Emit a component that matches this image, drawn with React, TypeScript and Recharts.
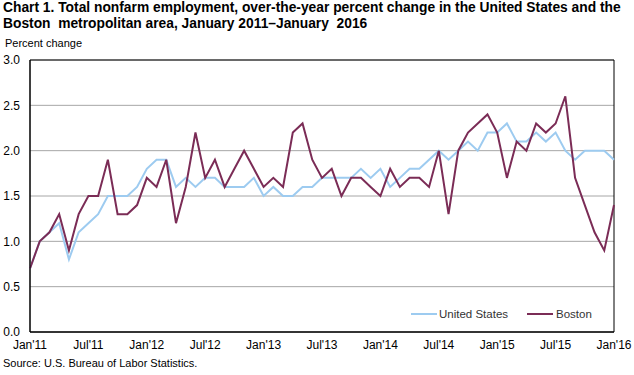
import React from "react";
import { LineChart, Line, XAxis, YAxis, CartesianGrid, ReferenceArea } from "recharts";

const months = [
  "Jan'11","Feb'11","Mar'11","Apr'11","May'11","Jun'11","Jul'11","Aug'11","Sep'11","Oct'11","Nov'11","Dec'11",
  "Jan'12","Feb'12","Mar'12","Apr'12","May'12","Jun'12","Jul'12","Aug'12","Sep'12","Oct'12","Nov'12","Dec'12",
  "Jan'13","Feb'13","Mar'13","Apr'13","May'13","Jun'13","Jul'13","Aug'13","Sep'13","Oct'13","Nov'13","Dec'13",
  "Jan'14","Feb'14","Mar'14","Apr'14","May'14","Jun'14","Jul'14","Aug'14","Sep'14","Oct'14","Nov'14","Dec'14",
  "Jan'15","Feb'15","Mar'15","Apr'15","May'15","Jun'15","Jul'15","Aug'15","Sep'15","Oct'15","Nov'15","Dec'15",
  "Jan'16",
];

const unitedStates = [
  0.7, 1.0, 1.1, 1.2, 0.8, 1.1, 1.2, 1.3, 1.5, 1.5, 1.5, 1.6,
  1.8, 1.9, 1.9, 1.6, 1.7, 1.6, 1.7, 1.7, 1.6, 1.6, 1.6, 1.7,
  1.5, 1.6, 1.5, 1.5, 1.6, 1.6, 1.7, 1.7, 1.7, 1.7, 1.8, 1.7,
  1.8, 1.6, 1.7, 1.8, 1.8, 1.9, 2.0, 1.9, 2.0, 2.1, 2.0, 2.2,
  2.2, 2.3, 2.1, 2.1, 2.2, 2.1, 2.2, 2.0, 1.9, 2.0, 2.0, 2.0,
  1.9,
];

const boston = [
  0.7, 1.0, 1.1, 1.3, 0.9, 1.3, 1.5, 1.5, 1.9, 1.3, 1.3, 1.4,
  1.7, 1.6, 1.9, 1.2, 1.6, 2.2, 1.7, 1.9, 1.6, 1.8, 2.0, 1.8,
  1.6, 1.7, 1.6, 2.2, 2.3, 1.9, 1.7, 1.8, 1.5, 1.7, 1.7, 1.6,
  1.5, 1.8, 1.6, 1.7, 1.7, 1.6, 2.0, 1.3, 2.0, 2.2, 2.3, 2.4,
  2.2, 1.7, 2.1, 2.0, 2.3, 2.2, 2.3, 2.6, 1.7, 1.4, 1.1, 0.9,
  1.4,
];

const yTicks = [0, 0.5, 1.0, 1.5, 2.0, 2.5, 3.0];
const xTickIndexes = [0, 6, 12, 18, 24, 30, 36, 42, 48, 54, 60];

const data = months.map((m, i) => ({ i, month: m, us: unitedStates[i], boston: boston[i] }));

const FONT = "'Liberation Sans Narrow', 'Arial Narrow', 'Liberation Sans', Arial, sans-serif";
const US_COLOR = "#9dcbf0";
const BOS_COLOR = "#7b2c56";

export default function App() {
  return (
    <div style={{ position: "fixed", left: 0, top: 0, width: 634, height: 375, background: "#fff", fontFamily: FONT }}>
      <div style={{ position: "absolute", left: 0, top: 0 }}>
        <LineChart width={634} height={375} data={data} margin={{ top: 60, right: 20, bottom: 0, left: 0 }}>
          <CartesianGrid horizontal={true} vertical={false} stroke="#a6a6a6" strokeWidth={1} />
          <XAxis
            dataKey="i"
            type="number"
            domain={[0, 60]}
            ticks={xTickIndexes}
            tickFormatter={(v: number) => months[v]}
            height={43}
            tickSize={0}
            tickMargin={8}
            axisLine={{ stroke: "#000" }}
            tick={{ fontSize: 12, fill: "#000", fontFamily: FONT }}
            interval={0}
          />
          <YAxis
            type="number"
            domain={[0, 3]}
            ticks={yTicks}
            tickFormatter={(v: number) => v.toFixed(1)}
            width={30}
            tickSize={0}
            tickMargin={10}
            axisLine={{ stroke: "#000" }}
            tick={{ fontSize: 12, fill: "#000", fontFamily: FONT }}
            interval={0}
          />
          <ReferenceArea x1={0} x2={60} y1={0} y2={3} stroke="#000" strokeWidth={1} fill="none" fillOpacity={0} ifOverflow="visible" />
          <Line type="linear" dataKey="us" stroke={US_COLOR} strokeWidth={2} dot={false} isAnimationActive={false} name="United States" />
          <Line type="linear" dataKey="boston" stroke={BOS_COLOR} strokeWidth={2} dot={false} isAnimationActive={false} name="Boston" />
        </LineChart>
      </div>
      <div style={{ position: "absolute", left: 3, top: 0, fontSize: 13.8, fontWeight: "bold", lineHeight: "16px", color: "#000", whiteSpace: "nowrap" }}>
        Chart 1. Total nonfarm employment, over-the-year percent change in the United States and the
        <br />
        Boston&nbsp; metropolitan area, January 2011–January&nbsp; 2016
      </div>
      <div style={{ position: "absolute", left: 5, top: 37, fontSize: 11, color: "#000", whiteSpace: "nowrap" }}>Percent change</div>
      <div style={{ position: "absolute", left: 3, top: 357, fontSize: 11, color: "#000", whiteSpace: "nowrap" }}>
        Source: U.S. Bureau of Labor Statistics.
      </div>
      <div style={{ position: "absolute", left: 411, top: 306, width: 200, height: 16, fontSize: 11.5, color: "#333" }}>
        <div style={{ position: "absolute", left: 0, top: 7, width: 26, height: 2, background: US_COLOR }} />
        <div style={{ position: "absolute", left: 28, top: 0, lineHeight: "16px" }}>United States</div>
        <div style={{ position: "absolute", left: 116, top: 7, width: 26, height: 2, background: BOS_COLOR }} />
        <div style={{ position: "absolute", left: 145, top: 0, lineHeight: "16px" }}>Boston</div>
      </div>
    </div>
  );
}
